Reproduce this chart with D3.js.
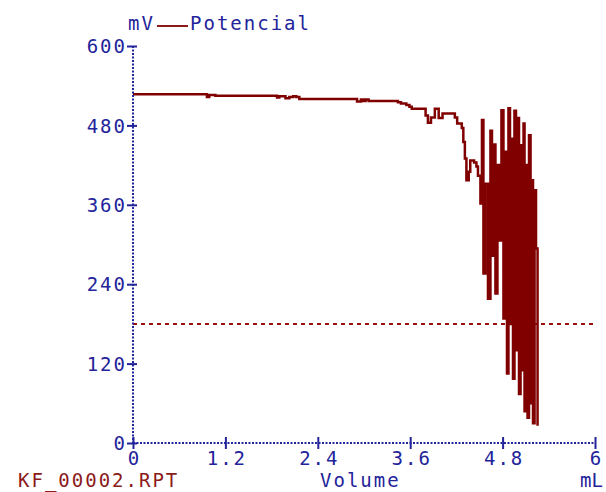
<!DOCTYPE html>
<html>
<head>
<meta charset="utf-8">
<script src="https://cdn.jsdelivr.net/npm/d3@7"></script>
<style>
  body { margin: 0; background: #fff; }
  text { font-family: "DejaVu Sans Mono", monospace; font-size: 19px; letter-spacing: 2px; }
</style>
</head>
<body>
<script>
// titration curve (mL, mV)
var volume = [0, 0.93, 0.96, 0.99, 1.07, 1.85, 1.87, 1.90, 1.96, 1.98, 2.01, 2.03, 2.08, 2.12, 2.16,
  2.88, 2.91, 2.96, 2.99, 3.02, 3.06, 3.40, 3.44, 3.48, 3.55, 3.59, 3.62, 3.77, 3.80, 3.83, 3.87,
  3.92, 3.97, 4.02, 4.15, 4.18, 4.21, 4.27, 4.29, 4.31, 4.33, 4.36, 4.38, 4.43, 4.46, 4.48, 4.512,
  4.532, 4.551, 4.577, 4.610, 4.642, 4.662, 4.688, 4.707, 4.733, 4.759, 4.785, 4.811, 4.831, 4.857,
  4.876, 4.896, 4.915, 4.935, 4.954, 4.974, 4.993, 5.013, 5.033, 5.052, 5.072, 5.085, 5.104, 5.124,
  5.143, 5.163, 5.182, 5.195, 5.215, 5.234, 5.254];
var potential = [527, 527, 523, 526, 525, 525, 522, 524, 524, 521, 521, 523, 524, 523, 520,
  520, 516, 519, 517, 519, 517, 517, 515, 513, 511, 508, 505, 505, 495, 484, 492,
  505, 491, 498, 498, 492, 483, 476, 455, 430, 397, 410, 427, 424, 418, 404, 362,
  488, 256, 392, 218, 472, 283, 451, 226, 420, 306, 503, 188, 440, 105,
  506, 180, 460, 97, 502, 140, 491, 74, 450, 110, 483, 48, 420, 38,
  465, 60, 397, 30, 382, 294, 26];

var endpoint = 180;
var xTicks = [0, 1.2, 2.4, 3.6, 4.8, 6];
var yTicks = [0, 120, 240, 360, 480, 600];

var blue = "#23239a", red = "#800000";

var margin = {top: 46, left: 133},
    width = 462,
    height = 397;

var x = d3.scaleLinear().domain([0, 6]).range([0, width]);
var y = d3.scaleLinear().domain([0, 600]).range([height, 0]);

var svg = d3.select("body").append("svg")
    .attr("width", 606)
    .attr("height", 492);

var g = svg.append("g")
    .attr("transform", "translate(" + margin.left + "," + margin.top + ")");

// endpoint line
g.append("line")
    .attr("x1", 0).attr("x2", width + 2)
    .attr("y1", y(endpoint)).attr("y2", y(endpoint))
    .attr("stroke", "#9a1010")
    .attr("stroke-width", 2)
    .attr("stroke-dasharray", "4,4");

// the curve, drawn as steps like the instrument plot
var line = d3.line()
    .curve(d3.curveStepAfter)
    .x(function(d) { return x(d[0]); })
    .y(function(d) { return y(d[1]); });

g.append("path")
    .datum(d3.zip(volume, potential))
    .attr("fill", "none")
    .attr("stroke", red)
    .attr("stroke-width", 2.5)
    .attr("d", line);

// Y axis
var yAxis = g.append("g")
    .call(d3.axisLeft(y).tickValues(yTicks).tickSize(6).tickPadding(10).tickFormat(d3.format("d")));
yAxis.select(".domain").remove();
yAxis.append("line")
    .attr("x1", 0).attr("x2", 0).attr("y1", 0).attr("y2", height)
    .attr("stroke", blue).attr("stroke-width", 2).attr("stroke-dasharray", "2,1.5");
yAxis.selectAll(".tick line").attr("x1", 4).attr("x2", -6).attr("stroke", blue).attr("stroke-width", 2);
yAxis.selectAll(".tick text")
    .attr("x", -6).attr("dy", "0.35em")
    .attr("fill", blue)
    .style("font-family", "DejaVu Sans Mono")
    .style("font-size", "19px");

// X axis
var xAxis = g.append("g")
    .attr("transform", "translate(0," + height + ")")
    .call(d3.axisBottom(x).tickValues(xTicks).tickSize(6).tickFormat(function(d) { return d; }));
xAxis.select(".domain").remove();
xAxis.append("line")
    .attr("x1", 0).attr("x2", width).attr("y1", 0).attr("y2", 0)
    .attr("stroke", blue).attr("stroke-width", 2).attr("stroke-dasharray", "2,1.5");
xAxis.selectAll(".tick line").attr("y1", -6).attr("y2", 6).attr("stroke", blue).attr("stroke-width", 2);
xAxis.selectAll(".tick text")
    .attr("y", 22).attr("dy", 0).attr("dx", 1)
    .attr("fill", blue)
    .style("font-family", "DejaVu Sans Mono")
    .style("font-size", "19px");

// labels
svg.append("text").attr("x", 128).attr("y", 30).attr("fill", blue).text("mV");
svg.append("line")
    .attr("x1", 157).attr("x2", 188).attr("y1", 26).attr("y2", 26)
    .attr("stroke", "#8b1a1a").attr("stroke-width", 2);
svg.append("text").attr("x", 190).attr("y", 30).attr("fill", blue).text("Potencial");

svg.append("text").attr("x", 18).attr("y", 487).attr("fill", "#8b1a1a").text("KF_00002.RPT");
svg.append("text").attr("x", 320).attr("y", 487).attr("fill", blue).text("Volume");
svg.append("text").attr("x", 580).attr("y", 487).attr("fill", blue)
    .style("letter-spacing", "0px").text("mL");
</script>
</body>
</html>
